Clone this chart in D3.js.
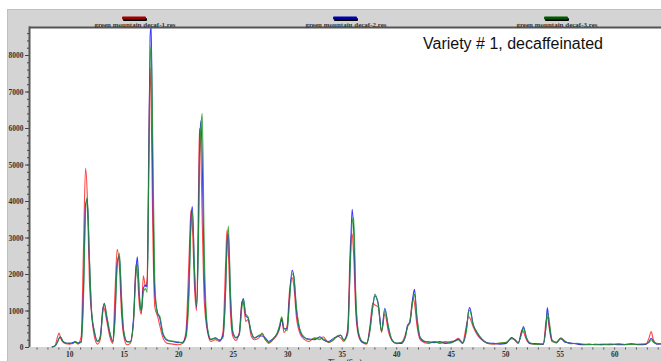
<!DOCTYPE html>
<html>
<head>
<meta charset="utf-8">
<script src="https://cdn.jsdelivr.net/npm/d3@7"></script>
<style>
  body { margin: 0; background: #fff; }
  svg { display: block; }
  .tick-label { font-family: "Liberation Serif", "DejaVu Serif", serif; font-weight: bold; font-size: 7.5px; fill: #333; }
</style>
</head>
<body>
<div id="chart"></div>
<script>
// retention times (sec) shared by the three runs
const retentionTimes = [
  8.40, 8.70, 8.95, 9.08, 9.20, 9.40, 9.70, 10.00, 10.30, 10.55, 10.80,
  11.10, 11.30, 11.50, 11.65, 11.85, 12.05, 12.30, 12.60, 12.85, 13.10, 13.22, 13.45, 13.75,
  14.00, 14.20, 14.40, 14.60, 14.80, 15.00, 15.30, 15.60, 15.90, 16.12, 16.25, 16.45, 16.62,
  16.80, 17.00, 17.15, 17.30, 17.42, 17.52, 17.65, 17.85, 18.10, 18.30, 18.60, 19.00, 19.50,
  20.00, 20.40, 20.70, 21.00, 21.17, 21.30, 21.50, 21.69, 21.85, 21.95, 22.08, 22.20, 22.40,
  22.70, 23.00, 23.40, 23.80, 24.10, 24.35, 24.47, 24.60, 24.80, 25.00, 25.30, 25.60, 25.85,
  25.98, 26.20, 26.40, 26.70, 27.00, 27.40, 27.70, 28.00, 28.30, 28.70, 29.10, 29.30, 29.50,
  29.70, 30.00, 30.20, 30.45, 30.60, 30.85, 31.20, 31.60, 32.00, 32.50, 33.00, 33.30, 33.80,
  34.30, 34.60, 34.90, 35.20, 35.55, 35.80, 35.96, 36.10, 36.30, 36.55, 36.90, 37.30, 37.60,
  37.85, 38.05, 38.35, 38.66, 38.96, 39.30, 39.60, 40.00, 40.50, 40.85, 41.05, 41.25, 41.55,
  41.68, 41.90, 42.20, 42.60, 43.00, 43.50, 44.00, 44.50, 45.00, 45.40, 45.70, 46.10, 46.45,
  46.65, 46.75, 47.07, 47.40, 47.90, 48.40, 49.00, 49.50, 50.10, 50.60, 50.90, 51.20, 51.55,
  51.68, 51.95, 52.30, 52.90, 53.50, 53.75, 53.87, 54.05, 54.30, 54.70, 55.10, 55.50, 56.00,
  56.60, 57.10, 57.70, 58.30, 59.00, 59.70, 60.40, 61.00, 61.60, 62.30, 62.90, 63.20, 63.40,
  63.60, 63.90, 64.30
];

const decaf1 = [
  0, 40, 300, 380, 250, 140, 90, 80, 100, 130, 80,
  300, 2600, 4900, 4200, 1800, 900, 300, 80, 200, 1100, 1050, 700, 250,
  100, 1500, 2680, 2200, 900, 300, 60, 100, 700, 2250, 2000, 1100, 900,
  1950, 1650, 1900, 5500, 7650, 6500, 3500, 1100, 850, 600, 250, 100, 80,
  60, 100, 400, 2500, 3750, 3300, 1600, 1000, 4000, 5990, 5300, 3500, 1200,
  400, 150, 200, 150, 400, 2300, 3200, 2600, 900, 300, 180, 400, 1250,
  1200, 700, 750, 300, 200, 250, 380, 200, 100, 200, 350, 500, 800,
  400, 600, 1500, 1900, 1700, 800, 350, 200, 150, 250, 200, 280, 120,
  200, 300, 250, 150, 500, 2800, 3100, 2500, 900, 300, 120, 80, 600,
  1200, 1150, 1100, 400, 900, 400, 180, 90, 120, 350, 550, 700, 1350,
  1200, 600, 200, 120, 100, 150, 100, 130, 150, 180, 240, 120, 600,
  830, 800, 550, 350, 180, 100, 80, 100, 120, 250, 180, 100, 470,
  420, 200, 90, 80, 70, 700, 830, 500, 150, 120, 250, 150, 100,
  90, 70, 60, 80, 60, 70, 80, 60, 80, 70, 80, 250, 420,
  200, 90, 80
];

const decaf2 = [
  0, 30, 150, 250, 270, 160, 110, 100, 120, 150, 110,
  150, 1500, 3900, 4050, 2400, 950, 420, 150, 300, 1050, 1200, 800, 350,
  150, 900, 2300, 2500, 1200, 400, 140, 150, 800, 2100, 2470, 1300, 1000,
  1600, 1700, 1650, 5000, 8500, 8800, 5000, 1500, 950, 800, 350, 180, 150,
  120, 130, 300, 1800, 3500, 3850, 2000, 1100, 3000, 5300, 6200, 5200, 1800,
  450, 200, 250, 180, 300, 1600, 2800, 3100, 1300, 400, 250, 350, 1200,
  1330, 850, 800, 400, 250, 300, 300, 250, 150, 230, 380, 550, 750,
  500, 500, 1300, 2100, 1950, 1000, 420, 250, 220, 200, 280, 200, 150,
  250, 280, 320, 200, 400, 2500, 3770, 3200, 1200, 350, 130, 100, 500,
  1100, 1400, 1200, 450, 1060, 500, 200, 110, 100, 300, 600, 650, 1400,
  1580, 800, 250, 150, 140, 120, 150, 100, 120, 170, 210, 100, 500,
  1000, 1080, 620, 400, 200, 110, 100, 80, 100, 260, 200, 110, 450,
  560, 250, 100, 90, 80, 600, 1080, 600, 180, 130, 230, 130, 110,
  80, 60, 80, 60, 70, 80, 60, 70, 90, 60, 70, 150, 240,
  150, 80, 90
];

const decaf3 = [
  0, 30, 160, 240, 280, 170, 100, 110, 90, 140, 100,
  120, 1200, 3700, 4100, 2500, 1000, 450, 160, 250, 1000, 1180, 850, 380,
  150, 700, 2200, 2570, 1400, 450, 150, 130, 700, 2000, 2300, 1400, 950,
  1500, 1600, 1500, 4800, 7800, 8230, 6000, 1800, 900, 850, 380, 200, 160,
  140, 110, 250, 1500, 3300, 3700, 2100, 1150, 2800, 5000, 6000, 6400, 2500,
  500, 220, 230, 200, 250, 1500, 2700, 3315, 1500, 450, 260, 330, 1100,
  1300, 900, 830, 420, 250, 320, 350, 200, 120, 220, 400, 600, 830,
  520, 450, 1200, 2000, 1950, 1100, 450, 260, 200, 230, 250, 220, 130,
  220, 300, 330, 180, 350, 2300, 3400, 3550, 1400, 400, 150, 110, 450,
  1100, 1450, 1150, 420, 1000, 550, 210, 100, 130, 280, 580, 700, 1300,
  1450, 850, 270, 160, 130, 140, 120, 150, 110, 160, 200, 110, 450,
  970, 1000, 600, 420, 210, 100, 90, 110, 130, 230, 190, 120, 400,
  520, 260, 110, 70, 90, 550, 950, 700, 200, 110, 240, 160, 90,
  100, 80, 70, 70, 80, 60, 90, 70, 70, 80, 90, 120, 200,
  130, 100, 90
];

const seriesNames = ["green mountain decaf-1.res", "green mountain decaf-2.res", "green mountain decaf-3.res"];
const yTickLabels = [0, 1000, 2000, 3000, 4000, 5000, 6000, 7000, 8000];
const xTickLabels = [10, 15, 20, 25, 30, 35, 40, 45, 50, 55, 60];

const width = 661, height = 361;
const margin = { top: 28, left: 30, bottom: 347 };

const lineColors = ["#ff2424", "#1414ff", "#1e9a1e"];
const legendColors = ["#a00000", "#0000a8", "#005800"];

const svg = d3.select("#chart").append("svg")
  .attr("width", width)
  .attr("height", height);

// grey panel
svg.append("rect")
  .attr("x", 7.5).attr("y", 9.5)
  .attr("width", width).attr("height", height)
  .attr("fill", "#d4d4d4")
  .attr("stroke", "#c0c0c0");

// plot area
svg.append("rect")
  .attr("x", margin.left).attr("y", margin.top)
  .attr("width", width - margin.left).attr("height", margin.bottom - margin.top)
  .attr("fill", "#fff");

const x = d3.scaleLinear().domain([6.4, 64.3]).range([margin.left, width]);
const y = d3.scaleLinear().domain([0, 8740]).range([margin.bottom, margin.top]);

svg.append("clipPath").attr("id", "plotClip")
  .append("rect")
  .attr("x", margin.left).attr("y", margin.top)
  .attr("width", width - margin.left).attr("height", margin.bottom - margin.top + 1);

const line = d3.line()
  .x((d, i) => x(retentionTimes[i]))
  .y(d => y(d))
  .curve(d3.curveMonotoneX);

const plot = svg.append("g").attr("clip-path", "url(#plotClip)");
[decaf1, decaf2, decaf3].forEach((vals, i) => {
  plot.append("path")
    .datum(vals)
    .attr("d", line)
    .attr("fill", "none")
    .attr("stroke", lineColors[i])
    .attr("stroke-opacity", 0.85)
    .attr("stroke-width", 1.1);
});

// y axis: minor ticks every 200, labels every 1000
const yAxis = d3.axisLeft(y)
  .tickValues(d3.range(0, 8741, 200))
  .tickSize(2)
  .tickFormat("");
svg.append("g")
  .attr("transform", `translate(${margin.left - 1},0)`)
  .call(yAxis)
  .call(g => g.select(".domain").remove())
  .call(g => g.selectAll("line").attr("stroke", "#444"));

const yMajor = d3.axisLeft(y)
  .tickValues(yTickLabels)
  .tickFormat(d3.format("d"))
  .tickSize(4)
  .tickPadding(1.5);
svg.append("g")
  .attr("transform", `translate(${margin.left - 1},0)`)
  .call(yMajor)
  .call(g => g.select(".domain").remove())
  .call(g => g.selectAll("line").attr("stroke", "#444"))
  .call(g => g.selectAll("text").attr("class", "tick-label").attr("dy", "0.35em"));

// x axis: ticks every second, labels every 5
const xAxis = d3.axisBottom(x)
  .tickValues(d3.range(7, 65, 1))
  .tickSize(2)
  .tickFormat("");
svg.append("g")
  .attr("transform", `translate(0,${margin.bottom + 0.5})`)
  .call(xAxis)
  .call(g => g.select(".domain").remove())
  .call(g => g.selectAll("line").attr("stroke", "#555"));

svg.append("g")
  .attr("transform", `translate(0,${margin.bottom + 0.5})`)
  .call(d3.axisBottom(x).tickValues(xTickLabels).tickFormat(d3.format("d")).tickSize(0).tickPadding(4))
  .call(g => g.select(".domain").remove())
  .call(g => g.selectAll("text").attr("class", "tick-label"));

// frame lines on top and left
svg.append("line")
  .attr("x1", margin.left - 1).attr("x2", width)
  .attr("y1", margin.top - 0.5).attr("y2", margin.top - 0.5)
  .attr("stroke", "#555").attr("stroke-width", 2);
svg.append("line")
  .attr("x1", margin.left - 0.5).attr("x2", margin.left - 0.5)
  .attr("y1", margin.top - 1.5).attr("y2", margin.bottom)
  .attr("stroke", "#555").attr("stroke-width", 2);

// axis title, mostly cut off at the bottom like the original
svg.append("text")
  .attr("class", "tick-label")
  .attr("x", 345).attr("y", 365)
  .attr("text-anchor", "middle")
  .text("Time (Sec)");

// legend
const legendX = [135, 346, 557];
seriesNames.forEach((name, i) => {
  const g = svg.append("g").attr("transform", `translate(${legendX[i]},0)`);
  g.append("rect")
    .attr("x", -12).attr("y", 18)
    .attr("width", 24).attr("height", 3)
    .attr("rx", 1)
    .attr("fill", "#000");
  g.append("rect")
    .attr("x", -13).attr("y", 16.5)
    .attr("width", 24).attr("height", 3)
    .attr("rx", 1)
    .attr("fill", legendColors[i]);
  g.append("text")
    .attr("class", "tick-label")
    .attr("x", 0).attr("y", 26.5)
    .attr("text-anchor", "middle")
    .style("font-size", "7px")
    .text(name);
});

// annotation
svg.append("text")
  .attr("x", 423).attr("y", 49)
  .attr("font-family", "'Liberation Sans', Arial, sans-serif")
  .attr("font-size", 16)
  .attr("fill", "#111")
  .text("Variety # 1, decaffeinated");
</script>
</body>
</html>
